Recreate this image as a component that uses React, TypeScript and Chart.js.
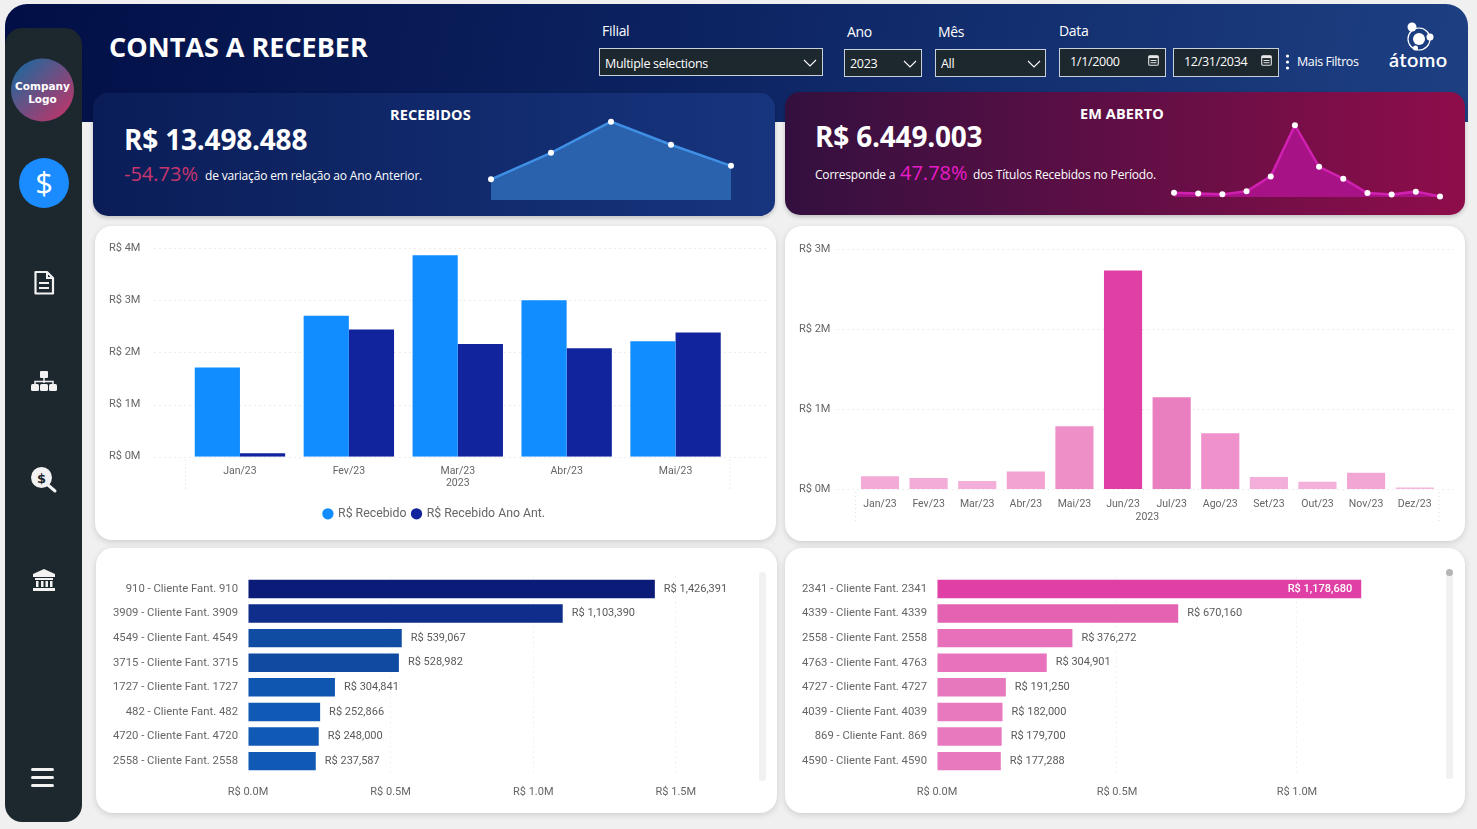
import React, { useEffect, useRef } from 'react';
import { Chart, registerables } from 'chart.js';

Chart.register(...registerables);

// chart data
const meses5 = ['Jan/23', 'Fev/23', 'Mar/23', 'Abr/23', 'Mai/23'];
const recebido = [1710000, 2700000, 3860000, 3000000, 2215000];
const recebidoAnoAnt = [64000, 2440000, 2160000, 2080000, 2380000];

const meses12 = ['Jan/23', 'Fev/23', 'Mar/23', 'Abr/23', 'Mai/23', 'Jun/23', 'Jul/23', 'Ago/23', 'Set/23', 'Out/23', 'Nov/23', 'Dez/23'];
const emAberto = [158000, 137000, 100000, 220000, 783000, 2730000, 1146000, 696000, 150000, 92000, 204000, 20000];

const clientesRecebidos = [
  '910 - Cliente Fant. 910',
  '3909 - Cliente Fant. 3909',
  '4549 - Cliente Fant. 4549',
  '3715 - Cliente Fant. 3715',
  '1727 - Cliente Fant. 1727',
  '482 - Cliente Fant. 482',
  '4720 - Cliente Fant. 4720',
  '2558 - Cliente Fant. 2558',
];
const valoresRecebidos = [1426391, 1103390, 539067, 528982, 304841, 252866, 248000, 237587];
const ticksRecebidos = [0, 500000, 1000000, 1500000];

const clientesAberto = [
  '2341 - Cliente Fant. 2341',
  '4339 - Cliente Fant. 4339',
  '2558 - Cliente Fant. 2558',
  '4763 - Cliente Fant. 4763',
  '4727 - Cliente Fant. 4727',
  '4039 - Cliente Fant. 4039',
  '869 - Cliente Fant. 869',
  '4590 - Cliente Fant. 4590',
];
const valoresAberto = [1178680, 670160, 376272, 304901, 191250, 182000, 179700, 177288];
const ticksAberto = [0, 500000, 1000000];

// colours per bar
const coresMeses = ['#F3AAD6', '#F3ACD8', '#F3AFDA', '#F2A3D2', '#EE8FC8', '#E040A5', '#EA7FC0', '#EF92CB', '#F3AED9', '#F3B0DB', '#F2A6D4', '#F5B8DE'];
const coresRecebidos = ['#0A1B78', '#0F2D8A', '#114CA3', '#114BA1', '#0F56B0', '#1059B4', '#1059B4', '#105AB5'];
const coresAberto = ['#E040A5', '#E462B2', '#E870BB', '#E873BC', '#E878BE', '#E879BF', '#E879BF', '#E879BF'];

const FONT = 'Roboto';
const UI = '"Open Sans"';
const TICK = '#666666';

const dottedGrid = (before: number, after: number) => ({
  id: 'dottedGrid',
  beforeDatasetsDraw(chart: any) {
    const { ctx, chartArea, scales } = chart;
    ctx.save();
    ctx.strokeStyle = '#DADADA';
    ctx.setLineDash([1, 4]);
    scales.y.ticks.forEach((t: any) => {
      const y = Math.round(scales.y.getPixelForValue(t.value)) + 0.5;
      ctx.beginPath();
      ctx.moveTo(chartArea.left - before, y);
      ctx.lineTo(chartArea.right + after, y);
      ctx.stroke();
    });
    ctx.restore();
  },
});

const axisBracket = (height: number) => ({
  id: 'axisBracket',
  afterDraw(chart: any) {
    const { ctx, chartArea } = chart;
    ctx.save();
    ctx.strokeStyle = '#DDDDDD';
    ctx.setLineDash([1, 3]);
    [chartArea.left, chartArea.right].forEach((x: number) => {
      ctx.beginPath();
      ctx.moveTo(x, chartArea.bottom + 3);
      ctx.lineTo(x, chartArea.bottom + height);
      ctx.stroke();
    });
    ctx.restore();
  },
});

// legend sits centred on the card, not on the plot
const shiftLegend = (dx: number) => ({
  id: 'shiftLegend',
  afterLayout(chart: any) {
    chart.legend.left += dx;
    chart.legend.right += dx;
  },
});

const valueLabels = (insideFirst: boolean) => ({
  id: 'valueLabels',
  afterDatasetsDraw(chart: any) {
    const { ctx } = chart;
    const values = chart.data.datasets[0].data;
    ctx.save();
    ctx.textBaseline = 'middle';
    chart.getDatasetMeta(0).data.forEach((bar: any, i: number) => {
      const text = 'R$ ' + values[i].toLocaleString('en-US');
      if (insideFirst && i === 0) {
        ctx.font = `500 11px ${FONT}`;
        ctx.fillStyle = '#FFFFFF';
        ctx.textAlign = 'right';
        ctx.fillText(text, bar.x - 9, bar.y);
      } else {
        ctx.font = `11px ${FONT}`;
        ctx.fillStyle = '#5A5A5A';
        ctx.textAlign = 'left';
        ctx.fillText(text, bar.x + 9, bar.y);
      }
    });
    ctx.restore();
  },
});

const tickFont = { family: FONT, size: 11 };

function recebidosConfig(): any {
  return {
    type: 'bar',
    data: {
      labels: meses5,
      datasets: [
        { label: 'R$ Recebido', data: recebido, backgroundColor: '#118DFF', pointStyle: 'circle' },
        { label: 'R$ Recebido Ano Ant.', data: recebidoAnoAnt, backgroundColor: '#12239E', pointStyle: 'circle' },
      ],
    },
    options: {
      responsive: false,
      animation: false,
      datasets: { bar: { categoryPercentage: 0.83, barPercentage: 1 } },
      layout: { padding: { left: 13, right: 43, top: 22, bottom: 10 } },
      plugins: {
        legend: {
          position: 'bottom',
          labels: { usePointStyle: true, boxWidth: 8, boxHeight: 8, padding: 6, color: TICK, font: { family: FONT, size: 12.3 } },
        },
        tooltip: { enabled: false },
      },
      scales: {
        x: {
          grid: { display: false, drawTicks: false },
          border: { display: false },
          ticks: { color: TICK, font: { family: FONT, size: 10.5 }, padding: 8, maxRotation: 0 },
          title: { display: true, text: '2023', color: TICK, font: { family: FONT, size: 10.5 }, padding: { top: 0, bottom: 11.7 } },
          afterFit: (s: any) => { s.height = 45; },
        },
        y: {
          min: 0,
          max: 4000000,
          grid: { display: false, drawTicks: false },
          border: { display: false },
          ticks: { stepSize: 1000000, color: TICK, font: tickFont, padding: 0, crossAlign: 'far', callback: (v: any) => `R$ ${v / 1000000}M` },
          afterFit: (s: any) => { s.width = 76.5; s.paddingTop = 0; s.paddingBottom = 0; },
        },
      },
    },
    plugins: [dottedGrid(31, 39), axisBracket(33), shiftLegend(15)],
  };
}

function abertoConfig(): any {
  return {
    type: 'bar',
    data: {
      labels: meses12,
      datasets: [{ label: 'Em aberto', data: emAberto, backgroundColor: coresMeses, categoryPercentage: 0.785, barPercentage: 1 }],
    },
    options: {
      responsive: false,
      animation: false,
      layout: { padding: { left: 13, right: 26, top: 23, bottom: 17 } },
      plugins: { legend: { display: false }, tooltip: { enabled: false } },
      scales: {
        x: {
          grid: { display: false, drawTicks: false },
          border: { display: false },
          ticks: { color: TICK, font: { family: FONT, size: 10.5 }, padding: 9, maxRotation: 0, autoSkip: false },
          title: { display: true, text: '2023', color: TICK, font: { family: FONT, size: 10.5 }, padding: { top: 0, bottom: 0 } },
          afterFit: (s: any) => { s.height = 35; },
        },
        y: {
          min: 0,
          max: 3000000,
          grid: { display: false, drawTicks: false },
          border: { display: false },
          ticks: { stepSize: 1000000, color: TICK, font: tickFont, padding: 0, crossAlign: 'far', callback: (v: any) => `R$ ${v / 1000000}M` },
          afterFit: (s: any) => { s.width = 56.7; s.paddingTop = 0; s.paddingBottom = 0; },
        },
      },
    },
    plugins: [dottedGrid(18, 14), axisBracket(34)],
  };
}

function clientesConfig(labels: string[], data: number[], colors: string[], xTicks: number[], max: number, insideFirst: boolean): any {
  return {
    type: 'bar',
    data: {
      labels,
      datasets: [{ data, backgroundColor: colors, categoryPercentage: 0.75, barPercentage: 1 }],
    },
    options: {
      indexAxis: 'y',
      responsive: false,
      animation: false,
      layout: { padding: { left: 0, right: 27, top: 28.6, bottom: 0 } },
      plugins: { legend: { display: false }, tooltip: { enabled: false } },
      scales: {
        x: {
          min: 0,
          max,
          grid: { color: '#E6E6E6', drawTicks: false },
          border: { display: false, dash: [1, 4] },
          afterBuildTicks: (s: any) => { s.ticks = xTicks.map((value) => ({ value })); },
          ticks: { color: TICK, font: tickFont, padding: 12, callback: (v: any) => `R$ ${(v / 1000000).toFixed(1)}M` },
          afterFit: (s: any) => { s.height = 39.6; s.paddingLeft = 0; s.paddingRight = 0; },
        },
        y: {
          grid: { display: false, drawTicks: false },
          border: { display: false },
          ticks: { color: TICK, font: { family: FONT, size: 11.3 }, padding: 10, autoSkip: false },
          afterFit: (s: any) => { s.width = 152; s.paddingTop = 0; s.paddingBottom = 0; },
        },
      },
    },
    plugins: [valueLabels(insideFirst)],
  };
}

function sparkConfig(labels: string[], data: number[], min: number, max: number, line: string, fill: string, lineWidth: number): any {
  return {
    type: 'line',
    data: {
      labels,
      datasets: [{
        data,
        borderColor: line,
        borderWidth: lineWidth,
        backgroundColor: fill,
        fill: 'start',
        tension: 0,
        clip: false,
        pointRadius: 3,
        pointBackgroundColor: '#FFFFFF',
        pointBorderColor: '#FFFFFF',
        pointBorderWidth: 0,
      }],
    },
    options: {
      responsive: false,
      animation: false,
      layout: { padding: { left: 6, right: 6, top: 5, bottom: 6 } },
      plugins: { legend: { display: false }, tooltip: { enabled: false } },
      scales: {
        x: { display: false },
        y: { display: false, min, max },
      },
    },
  };
}

interface BoxProps {
  left: number;
  top: number;
  width: number;
  height: number;
  config: () => any;
}

const ChartBox: React.FC<BoxProps> = ({ left, top, width, height, config }) => {
  const ref = useRef<HTMLCanvasElement>(null);

  useEffect(() => {
    if (!ref.current) return;
    const chart = new Chart(ref.current, config());
    return () => chart.destroy();
  }, []);

  return <canvas ref={ref} width={width} height={height} style={{ position: 'absolute', left, top, width, height }} />;
};

const Txt: React.FC<{ x: number; y: number; size: number; weight?: number; color?: string; spacing?: number; font?: string; children: React.ReactNode }> = ({ x, y, size, weight = 400, color = '#FFFFFF', spacing = 0, font = UI, children }) => (
  <div style={{ position: 'absolute', left: x, top: y - size * 0.75, lineHeight: `${size * 1.5}px`, fontSize: size, fontWeight: weight, color, letterSpacing: spacing, fontFamily: font, whiteSpace: 'nowrap' }}>
    {children}
  </div>
);

const Panel: React.FC<{ x: number; y: number; w: number; h: number }> = ({ x, y, w, h }) => (
  <div style={{ position: 'absolute', left: x, top: y, width: w, height: h, background: '#FFFFFF', borderRadius: 17, boxShadow: '0 2px 6px rgba(0,0,0,0.14)' }} />
);

const Field: React.FC<{ x: number; y: number; w: number; h?: number }> = ({ x, y, w, h = 28 }) => (
  <div style={{ position: 'absolute', left: x, top: y, width: w, height: h, boxSizing: 'border-box', background: '#1D272E', border: '1px solid #C8D0DC' }} />
);

const Chevron: React.FC<{ x: number; y: number }> = ({ x, y }) => (
  <svg style={{ position: 'absolute', left: x, top: y }} width="14" height="8" viewBox="0 0 14 8">
    <path d="M1 1 L7 7 L13 1" fill="none" stroke="#FFFFFF" strokeWidth="1.1" />
  </svg>
);

const Calendar: React.FC<{ x: number; y: number }> = ({ x, y }) => (
  <svg style={{ position: 'absolute', left: x, top: y }} width="11" height="11" viewBox="0 0 11 11">
    <rect x="0.7" y="0.7" width="9.6" height="9.6" rx="1.4" fill="none" stroke="#E6E6E6" strokeWidth="1.1" />
    <rect x="0.7" y="0.7" width="9.6" height="2.4" fill="#E6E6E6" />
    <rect x="2.5" y="5" width="6" height="1" fill="#E6E6E6" />
    <rect x="2.5" y="7.2" width="6" height="1" fill="#E6E6E6" />
  </svg>
);

const Sidebar: React.FC = () => (
  <svg style={{ position: 'absolute', left: 0, top: 0 }} width="90" height="829" viewBox="0 0 90 829">
    <defs>
      <linearGradient id="logoGrad" x1="0.1" y1="0.15" x2="0.85" y2="0.9">
        <stop offset="0" stopColor="#27659A" />
        <stop offset="1" stopColor="#B5386C" />
      </linearGradient>
    </defs>
    <rect x="5" y="28" width="77" height="794" rx="17" fill="#1D272E" />
    <circle cx="42.5" cy="90" r="31.5" fill="url(#logoGrad)" />
    <text x="42.5" y="90" textAnchor="middle" fill="#FFFFFF" fontFamily="DejaVu Sans" fontWeight="700" fontSize="10.5">Company</text>
    <text x="42.5" y="103" textAnchor="middle" fill="#FFFFFF" fontFamily="DejaVu Sans" fontWeight="700" fontSize="10.5">Logo</text>

    <circle cx="44" cy="183" r="25" fill="#1A8CFF" />
    <text x="44" y="194" textAnchor="middle" fill="#FFFFFF" fontFamily="Open Sans" fontSize="31">$</text>

    <path d="M35.5 272 H47 L53 278 V293.5 H35.5 Z" fill="none" stroke="#F2F2F2" strokeWidth="2.2" strokeLinejoin="round" />
    <path d="M47 272 V278 H53" fill="none" stroke="#F2F2F2" strokeWidth="2" />
    <rect x="39" y="282" width="10" height="2" fill="#F2F2F2" />
    <rect x="39" y="287" width="10" height="2" fill="#F2F2F2" />

    <rect x="40" y="371" width="8" height="7" rx="1" fill="#F2F2F2" />
    <path d="M44 378 V383 M35 384 V381.5 H53 V384" stroke="#F2F2F2" strokeWidth="1.5" fill="none" />
    <rect x="31" y="384" width="8" height="7" rx="1.5" fill="#F2F2F2" />
    <rect x="40" y="384" width="8" height="7" rx="1.5" fill="#F2F2F2" />
    <rect x="49" y="384" width="8" height="7" rx="1.5" fill="#F2F2F2" />

    <circle cx="41.5" cy="477.5" r="10.5" fill="#F2F2F2" />
    <path d="M48 485 L55 491" stroke="#F2F2F2" strokeWidth="3" strokeLinecap="round" />
    <text x="41.5" y="482.5" textAnchor="middle" fill="#1D272E" fontFamily="DejaVu Sans" fontWeight="700" fontSize="13">$</text>

    <path d="M33 574 L44 569 L55 574 V577 H33 Z" fill="#F2F2F2" />
    <rect x="35" y="578" width="18" height="2" fill="#F2F2F2" />
    <rect x="36" y="581" width="2.5" height="6" fill="#F2F2F2" />
    <rect x="41" y="581" width="2.5" height="6" fill="#F2F2F2" />
    <rect x="45.5" y="581" width="2.5" height="6" fill="#F2F2F2" />
    <rect x="50" y="581" width="2.5" height="6" fill="#F2F2F2" />
    <rect x="33" y="588" width="22" height="3" fill="#F2F2F2" />

    <rect x="31" y="768" width="23" height="3" rx="1.5" fill="#F2F2F2" />
    <rect x="31" y="776" width="23" height="3" rx="1.5" fill="#F2F2F2" />
    <rect x="31" y="784" width="23" height="3" rx="1.5" fill="#F2F2F2" />
  </svg>
);

const AtomLogo: React.FC = () => (
  <svg style={{ position: 'absolute', left: 1400, top: 20 }} width="40" height="34" viewBox="0 0 40 34">
    <circle cx="12" cy="7" r="4.5" fill="#FFFFFF" />
    <circle cx="19" cy="19" r="6" fill="#FFFFFF" />
    <circle cx="30" cy="17" r="3.5" fill="#FFFFFF" />
    <circle cx="15.5" cy="28" r="2.5" fill="#FFFFFF" />
    <circle cx="19" cy="19" r="11" fill="none" stroke="#FFFFFF" strokeWidth="1.2" />
  </svg>
);

const App: React.FC = () => (
  <div style={{ position: 'absolute', left: 0, top: 0, width: 1477, height: 829, overflow: 'hidden', background: '#F0F0F0' }}>
    <div style={{ position: 'absolute', left: 5, top: 4, width: 1463, height: 118, borderRadius: '22px 22px 0 0', background: 'linear-gradient(100deg, #020F46 0%, #0C2260 45%, #1D4083 100%)' }} />

    <div style={{ position: 'absolute', left: 93, top: 93, width: 682, height: 123, borderRadius: 15, background: 'linear-gradient(90deg, #0A1D57 0%, #17357E 100%)', boxShadow: '0 2px 4px rgba(0,0,0,0.2)' }} />
    <div style={{ position: 'absolute', left: 785, top: 92, width: 680, height: 123, borderRadius: 15, background: 'linear-gradient(90deg, #33103F 0%, #8E0D4B 100%)', boxShadow: '0 2px 4px rgba(0,0,0,0.2)' }} />

    <Sidebar />

    <Txt x={109} y={47} size={27} weight={700}>CONTAS A RECEBER</Txt>

    <Txt x={602} y={30} size={14} spacing={-0.3}>Filial</Txt>
    <Txt x={847} y={31} size={14} spacing={-0.3}>Ano</Txt>
    <Txt x={938} y={31} size={14} spacing={-0.3}>Mês</Txt>
    <Txt x={1059} y={30} size={14} spacing={-0.3}>Data</Txt>

    <Field x={599} y={48} w={224} />
    <Txt x={605} y={64} size={12.5} spacing={-0.3}>Multiple selections</Txt>
    <Chevron x={803} y={59} />
    <Field x={844} y={49} w={78} />
    <Txt x={850} y={64} size={12.5} spacing={-0.3}>2023</Txt>
    <Chevron x={903} y={60} />
    <Field x={935} y={49} w={111} />
    <Txt x={941} y={64} size={12.5} spacing={-0.3}>All</Txt>
    <Chevron x={1027} y={60} />
    <Field x={1059} y={48} w={107} h={29} />
    <Txt x={1070} y={62} size={12.5} spacing={-0.3}>1/1/2000</Txt>
    <Calendar x={1148} y={55} />
    <Field x={1173} y={48} w={106} h={29} />
    <Txt x={1184} y={62} size={12.5} spacing={-0.3}>12/31/2034</Txt>
    <Calendar x={1261} y={55} />
    <svg style={{ position: 'absolute', left: 1285, top: 53 }} width="5" height="18" viewBox="0 0 5 18">
      <circle cx="2.5" cy="3" r="1.6" fill="#FFFFFF" />
      <circle cx="2.5" cy="9" r="1.6" fill="#FFFFFF" />
      <circle cx="2.5" cy="15" r="1.6" fill="#FFFFFF" />
    </svg>
    <Txt x={1297} y={62} size={12.5} spacing={-0.4}>Mais Filtros</Txt>
    <AtomLogo />
    <Txt x={1389} y={59} size={20} weight={600} spacing={0.4} font="Lato">átomo</Txt>

    <Txt x={390} y={115} size={14.5} weight={700} spacing={0.1}>RECEBIDOS</Txt>
    <Txt x={124} y={139} size={28} weight={700} spacing={-0.2}>R$ 13.498.488</Txt>
    <Txt x={124} y={174} size={20} weight={500} color="#C8366E">-54.73%</Txt>
    <Txt x={205} y={176} size={12} spacing={-0.17}>de variação em relação ao Ano Anterior.</Txt>
    <ChartBox left={485} top={110} width={252} height={96} config={() => sparkConfig(meses5, recebido, 940000, 4110000, '#3F8FE5', '#2A62AE', 2.5)} />

    <Txt x={1080} y={114} size={14.5} weight={700} spacing={0.1}>EM ABERTO</Txt>
    <Txt x={815} y={136} size={28} weight={700} spacing={-0.2}>R$ 6.449.003</Txt>
    <Txt x={815} y={175} size={12} spacing={-0.2}>Corresponde a</Txt>
    <Txt x={900} y={173} size={20} weight={500} color="#E81CC8">47.78%</Txt>
    <Txt x={973} y={175} size={12} spacing={-0.17}>dos Títulos Recebidos no Período.</Txt>
    <ChartBox left={1168} top={110} width={278} height={93} config={() => sparkConfig(meses12, emAberto, 0, 3118000, '#D020B0', '#A81287', 2.5)} />

    <Panel x={95} y={226} w={681} h={314} />
    <Panel x={785} y={226} w={680} h={315} />
    <Panel x={96} y={548} w={681} h={265} />
    <Panel x={785} y={548} w={680} h={265} />

    <ChartBox left={96} top={226} width={677} height={314} config={recebidosConfig} />
    <ChartBox left={786} top={226} width={679} height={315} config={abertoConfig} />
    <ChartBox left={96} top={548} width={681} height={265} config={() => clientesConfig(clientesRecebidos, valoresRecebidos, coresRecebidos, ticksRecebidos, 1760000, false)} />
    <ChartBox left={785} top={548} width={680} height={265} config={() => clientesConfig(clientesAberto, valoresAberto, coresAberto, ticksAberto, 1392000, true)} />

    <div style={{ position: 'absolute', left: 759, top: 572, width: 7, height: 209, borderRadius: 3, background: '#F1F1F1' }} />
    <div style={{ position: 'absolute', left: 1446, top: 570, width: 7, height: 209, borderRadius: 3, background: '#F1F1F1' }} />
    <div style={{ position: 'absolute', left: 1446, top: 569, width: 7, height: 7, borderRadius: 4, background: '#B5B5B5' }} />
  </div>
);

export default App;
